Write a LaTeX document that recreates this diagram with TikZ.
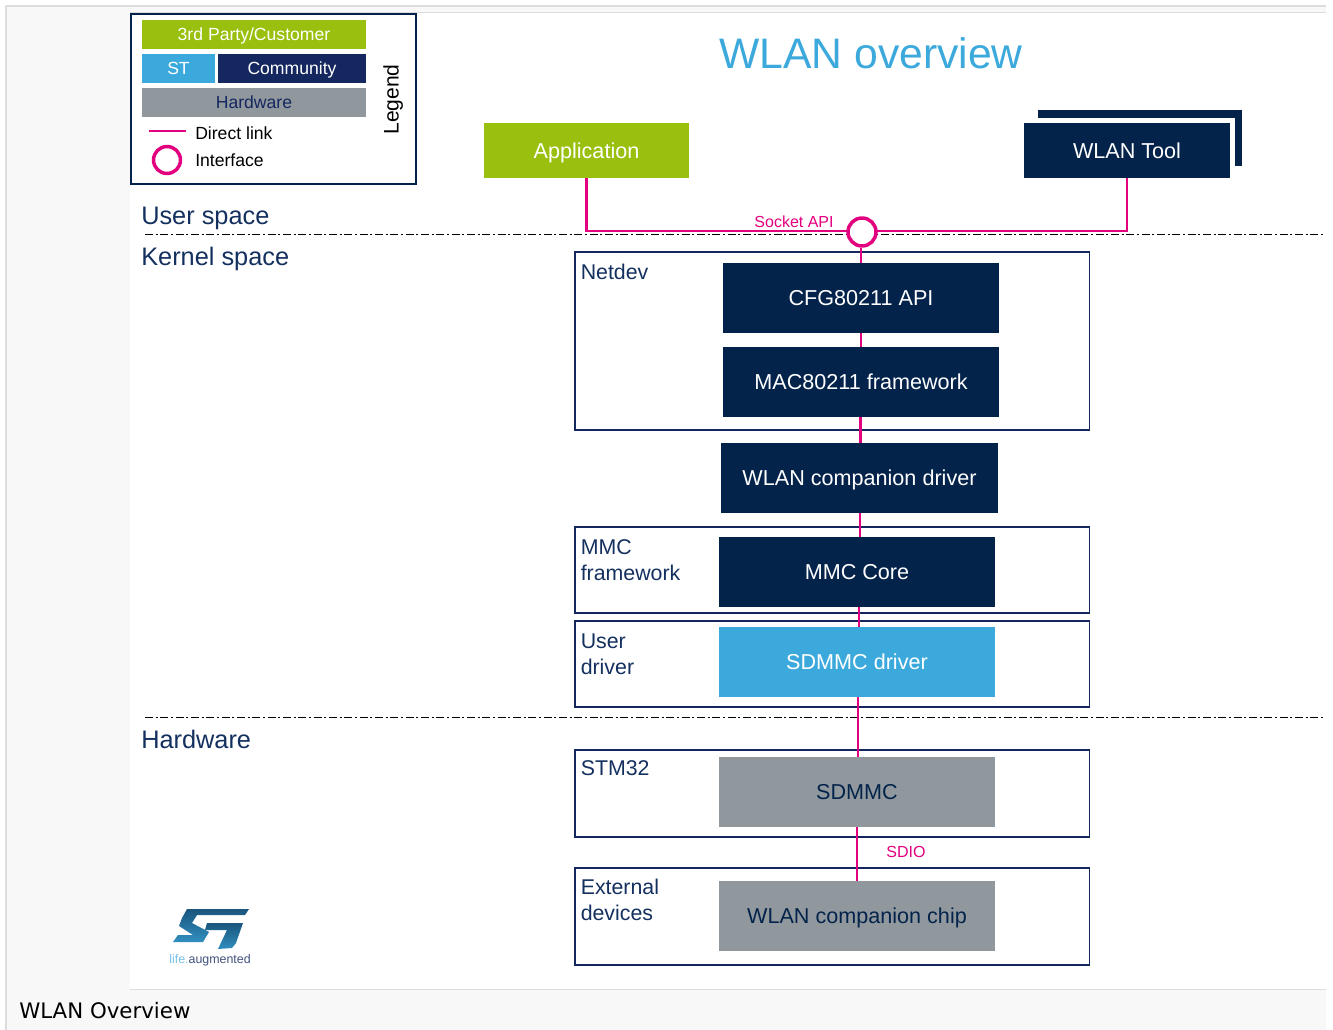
\documentclass[tikz,border=0pt]{standalone}
\usepackage{fontspec}
\setmainfont{Liberation Sans}
\newfontfamily\capfont{DejaVu Sans}
\definecolor{navy}{HTML}{03234B}
\definecolor{navyb}{HTML}{14275F}
\definecolor{stblue}{HTML}{3CA9DC}
\definecolor{lime}{HTML}{99C00E}
\definecolor{hwgrey}{HTML}{90989E}
\definecolor{pinkl}{HTML}{E3007E}
\definecolor{txtblue}{HTML}{14305F}
\definecolor{pagebg}{HTML}{F8F8F8}
\definecolor{edge}{HTML}{DDDDDD}
\newcommand{\fs}[1]{\fontsize{#1}{#1}\selectfont}
\tikzset{
  x=.75pt,y=-.75pt,
  blk/.style={inner sep=0pt,outer sep=0pt,align=center,text height=11.7pt,text depth=0pt},
  darkbox/.style={blk,fill=navy,text=white,font=\fs{16.2}},
  bluebox/.style={blk,fill=stblue,text=white,font=\fs{16.2}},
  greybox/.style={blk,fill=hwgrey,text=navy,font=\fs{16.2}},
  limebox/.style={blk,fill=lime,text=white,font=\fs{16.2}},
  leg/.style={blk,font=\fs{13.2},text height=9.5pt},
  frm/.style={draw=navyb,line width=.8pt,inner sep=0pt,outer sep=0pt},
  lab/.style={anchor=north west,inner sep=0pt,align=left,text=txtblue,font=\fs{16}},
  sect/.style={anchor=west,inner sep=0pt,text=txtblue,font=\fs{19},text height=13.7pt,text depth=0pt},
  lnk/.style={draw=pinkl,line width=2pt},
  dd/.style={draw=black,line width=.7pt,dash pattern=on 6pt off 2pt on 1.5pt off 2pt},
  pinkt/.style={inner sep=0pt,text=pinkl,font=\fs{12},text height=8.6pt,text depth=0pt},
  plain/.style={anchor=west,inner sep=0pt,font=\fs{13.2},text height=9.5pt,text depth=0pt},
}
\newcommand{\bx}[7]{\node[#2,minimum width=(#5-#3)*.75pt,minimum height=(#6-#4)*.75pt,anchor=north west] (#1) at (#3,#4) {#7};}
\begin{document}
\begin{tikzpicture}
\useasboundingbox (0,0) rectangle (1333,1030);
% page background
\fill[white] (0,0) rectangle (1333,1030);
\fill[pagebg] (6,6) rectangle (1326,1030);
\fill[white] (130,13) rectangle (1326,989);
\draw[edge,line width=1pt] (6,1030) -- (6,6) -- (1326,6);
\draw[edge,line width=.7pt] (130,12.5) -- (1326,12.5);
\draw[edge,line width=.7pt] (130,989.5) -- (1326,989.5);
% divider lines
\coordinate (d1a) at (145,234); \coordinate (d1b) at (1325,234);
\coordinate (d2a) at (145,717); \coordinate (d2b) at (1325,717);
\draw[dd] (d1a) -- (d1b);
\draw[dd] (d2a) -- (d2b);
% legend
\bx{legend}{draw=navy,line width=1.9pt,inner sep=0pt,outer sep=0pt}{131}{14}{416}{184}{}
\bx{l3}{leg,fill=lime,text=white}{142}{20}{366}{49}{3rd Party/Customer}
\bx{lst}{leg,fill=stblue,text=white}{142}{54}{215}{83}{ST}
\bx{lcom}{leg,fill=navyb,text=white}{218}{54}{366}{83}{Community}
\bx{lhw}{leg,fill=hwgrey,text=navyb}{142}{88}{366}{117}{Hardware}
\coordinate (la) at (149,131); \coordinate (lb) at (186,131);
\draw[lnk] (la) -- (lb);
\node[plain] (tdl) at (195,133) {Direct link};
\node[circle,draw=pinkl,line width=2.6pt,minimum size=27*.75pt,inner sep=0pt] (lif) at (167,160) {};
\node[plain] (tif) at (195,160) {Interface};
\node[rotate=90,inner sep=0pt,font=\fs{15.8},text height=11.4pt,text depth=3pt] (tleg) at (393,99.5) {Legend};
% title + sections
\node[inner sep=0pt,text=stblue,font=\fs{32},text height=23pt,text depth=0pt] (title) at (871,53) {WLAN overview};
\node[sect] (us) at (141,215) {User space};
\node[sect] (ks) at (141,256) {Kernel space};
\node[sect] (hws) at (141,739) {Hardware};
% frames
\bx{fnet}{frm}{575}{252}{1089.5}{430}{}
\bx{fmmc}{frm}{575}{527}{1089.5}{613}{}
\bx{fusr}{frm}{575}{621}{1089.5}{707}{}
\bx{fstm}{frm}{575}{750}{1089.5}{837}{}
\bx{fext}{frm}{575}{868}{1089.5}{965}{}
\node[lab] (lnet) at (580.5,264) {Netdev};
\node[lab] (lmmc) at (580.5,539) {MMC\\[3.5pt]framework};
\node[lab] (lusr) at (580.5,634) {User\\[3.5pt]driver};
\node[lab] (lstm) at (580.5,760) {STM32};
\node[lab] (lext) at (580.5,879) {External\\[3.5pt]devices};
% top apps
\bx{toolb}{blk,fill=navy}{1038}{110}{1242}{166}{}
\bx{toolw}{blk,fill=white}{1030}{118}{1235}{172}{}
\bx{app}{limebox}{484}{123}{689}{178}{Application}
\bx{tool}{darkbox}{1024}{123}{1230}{178}{WLAN Tool}
% stack
\bx{cfg}{darkbox}{723}{263}{999}{333}{CFG80211 API}
\bx{mac}{darkbox}{723}{347}{999}{417}{MAC80211 framework}
\bx{drv}{darkbox}{721}{443}{998}{513}{WLAN companion driver}
\bx{core}{darkbox}{719}{537}{995}{607}{MMC Core}
\bx{sdd}{bluebox}{719}{627}{995}{697}{SDMMC driver}
\bx{sdm}{greybox}{719}{757}{995}{827}{SDMMC}
\bx{chip}{greybox}{719}{881}{995}{951}{WLAN companion chip}
% connectors
\coordinate (jn) at (862,231);
\draw[lnk] (app.south) -- (app.south |- jn) -- (jn);
\draw[lnk] (tool.south) -- (tool.south |- jn) -- (jn);
\node[circle,draw=pinkl,line width=2.6pt,fill=white,minimum size=28*.75pt,inner sep=0pt] (if) at (862,232) {};
\draw[lnk] (if.south -| cfg.north) -- (cfg.north);
\draw[lnk] (cfg.south) -- (mac.north);
\draw[lnk] (mac.south) ++(-.5,0) -- ++(0,26);
\draw[lnk] (drv.south) ++(.5,0) -- ++(0,24);
\draw[lnk] (core.south) ++(2,0) -- ++(0,20);
\draw[lnk] (sdd.south) ++(1,0) -- ++(0,60);
\draw[lnk] (sdm.south) -- (chip.north);
\node[pinkt] (sock) at (794,221.5) {Socket API};
\node[pinkt] (sdio) at (906,852) {SDIO};
% logo
\shade[top color=black!25!stblue!55!navy,bottom color=stblue!80!navy]
  (187,909) -- (249,909) -- (245,915) -- (197,915) -- (192,923) -- (209,932) -- (203,942)
  -- (173,942) -- (178,935) -- (193,935) -- (179,926) -- (182,918) -- cycle;
\shade[top color=black!25!stblue!55!navy,bottom color=stblue!80!navy]
  (207,923) -- (243,923) -- (236,943) -- (232,948) -- (218,949) -- (227,930) -- (205,930) -- cycle;
\node[inner sep=0pt,font=\fs{9.3},text height=6.7pt,text depth=0pt] (ltxt) at (210,959) {\textcolor{stblue!70}{life.}\textcolor{navyb!80}{augmented}};
% caption
\node[anchor=west,inner sep=0pt,font=\capfont\fs{16}] (cap) at (19,1011) {WLAN Overview};
\end{tikzpicture}
\end{document}
